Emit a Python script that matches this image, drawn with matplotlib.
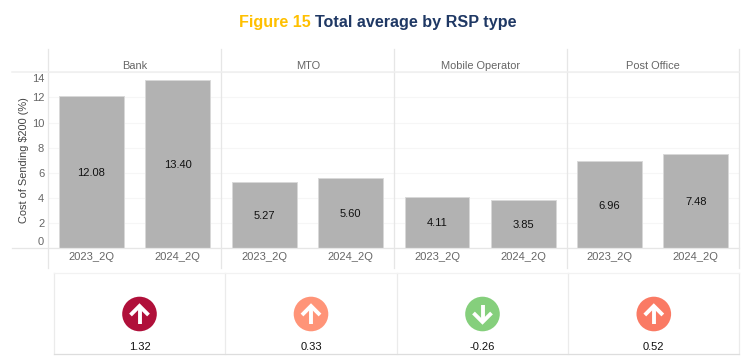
import matplotlib
matplotlib.use('Agg')
import matplotlib.pyplot as plt
from matplotlib.lines import Line2D
from matplotlib.patches import Circle
from matplotlib.transforms import ScaledTranslation

plt.rcParams['font.family'] = ['Liberation Sans', 'DejaVu Sans']

# data
rsp_types = ['Bank', 'MTO', 'Mobile Operator', 'Post Office']
quarters = ['2023_2Q', '2024_2Q']
q2_2023 = [12.08, 5.27, 4.11, 6.96]
q2_2024 = [13.40, 5.60, 3.85, 7.48]
changes = [1.32, 0.33, -0.26, 0.52]
change_labels = ['1.32', '0.33', '-0.26', '0.52']
arrow_colors = ['#B0103A', '#FF9478', '#85CF7C', '#FA7A64']
y_ticks = [0, 2, 4, 6, 8, 10, 12, 14]

W, H = 751, 362
GRID = '#E6E6E6'
TEXT = '#666666'
panel_edges = [48.4, 221.3, 394.3, 566.8, 739.4]
box_edges = [53.7, 225.3, 396.7, 568.3, 739.3]
plot_top, plot_bottom = 72.3, 248.3
box_top, box_bottom = 273.3, 353.7


def px_rect(x0, y0, x1, y1):
    # pixel box (top-left origin) to figure fractions
    return [x0 / W, 1 - y1 / H, (x1 - x0) / W, (y1 - y0) / H]


def fig_line(x0, y0, x1, y1, color=GRID, lw=1.0):
    fig.add_artist(Line2D([x0 / W, x1 / W], [1 - y0 / H, 1 - y1 / H], color=color, linewidth=lw))


fig = plt.figure(figsize=(W / 100, H / 100), dpi=100)

# two colour title
t1 = fig.text(239 / W, 1 - 22 / H, 'Figure 15', color='#FFC000', fontsize=11.65, fontweight='bold', va='center')
fig.canvas.draw()
t1_box = t1.get_window_extent()
fig.text((t1_box.x1 + 4) / W, 1 - 22 / H, 'Total average by RSP type', color='#1F3864',
         fontsize=11.65, fontweight='bold', va='center')

# small multiples
for i, name in enumerate(rsp_types):
    ax = fig.add_axes(px_rect(panel_edges[i], plot_top, panel_edges[i + 1], plot_bottom))
    vals = [q2_2023[i], q2_2024[i]]
    ax.bar([0, 1], vals, width=0.75, color='#B2B2B2', edgecolor='#D9D9D9', linewidth=0.7, zorder=3)
    for x, v in enumerate(vals):
        ax.annotate(f'{v:.2f}', (x, v / 2), xytext=(0, -0.7), textcoords='offset points', ha='center',
                    va='center', fontsize=8, color='#111111', zorder=4)
    ax.set_xlim(-0.495, 1.505)
    ax.set_ylim(0, 14)
    ax.set_xticks([0, 1])
    ax.set_xticklabels(quarters, fontsize=8, color=TEXT)
    ax.set_yticks(y_ticks)
    ax.grid(axis='y', color='#F6F6F6', linewidth=0.8, zorder=0)
    ax.tick_params(length=0, pad=3)
    for s in ax.spines.values():
        s.set_visible(False)
    if i == 0:
        ax.set_yticklabels([str(t) for t in y_ticks], fontsize=8, color=TEXT)
        labels = ax.get_yticklabels()
        labels[0].set_va('bottom')
        labels[-1].set_va('top')
        # nudge end labels to sit inside the plot area
        labels[0].set_transform(labels[0].get_transform() + ScaledTranslation(0, 1 / 100, fig.dpi_scale_trans))
        labels[-1].set_transform(labels[-1].get_transform() + ScaledTranslation(0, -2 / 100, fig.dpi_scale_trans))
        ax.set_ylabel('Cost of Sending $200 (%)', fontsize=7.9, color='#444444', labelpad=2)
    else:
        ax.tick_params(labelleft=False)
    fig.text((panel_edges[i] + panel_edges[i + 1]) / 2 / W, 1 - 66 / H, name, ha='center', va='center',
             fontsize=7.9, color=TEXT)

    # arrow tiles under each panel
    tile = fig.add_axes(px_rect(box_edges[i], box_top, box_edges[i + 1], box_bottom))
    tile.set_xlim(box_edges[i], box_edges[i + 1])
    tile.set_ylim(box_bottom, box_top)
    tile.axis('off')
    cx = (box_edges[i] + box_edges[i + 1]) / 2
    cy = 314
    tile.add_patch(Circle((cx, cy), 17.3, color=arrow_colors[i], linewidth=0))
    d = 1 if changes[i] > 0 else -1
    tile.plot([cx, cx], [cy - 8 * d, cy + 9.5 * d], color='white', linewidth=2.8, solid_capstyle='butt')
    tile.plot([cx - 9, cx, cx + 9], [cy + 1 * d, cy - 8 * d, cy + 1 * d], color='white',
              linewidth=2.8, solid_capstyle='butt', solid_joinstyle='miter')
    tile.text(cx, 346.5, change_labels[i], ha='center', va='center', fontsize=8, color='#111111')

# frame lines
for x in panel_edges:
    fig_line(x, 49.3, x, 268, lw=0.9)
fig_line(12, plot_top, panel_edges[-1], plot_top, color='#EFEFEF', lw=1.1)
fig_line(12, plot_bottom, panel_edges[-1], plot_bottom, lw=0.9)
for x in box_edges:
    fig_line(x, box_top, x, box_bottom, color='#EBEBEB', lw=0.9)
fig_line(box_edges[0], box_top, box_edges[-1], box_top, color='#F2F2F2', lw=0.9)
fig_line(box_edges[0], box_bottom, box_edges[-1], box_bottom, color='#DDDDDD', lw=0.9)

fig.savefig('out.png', dpi=100)
